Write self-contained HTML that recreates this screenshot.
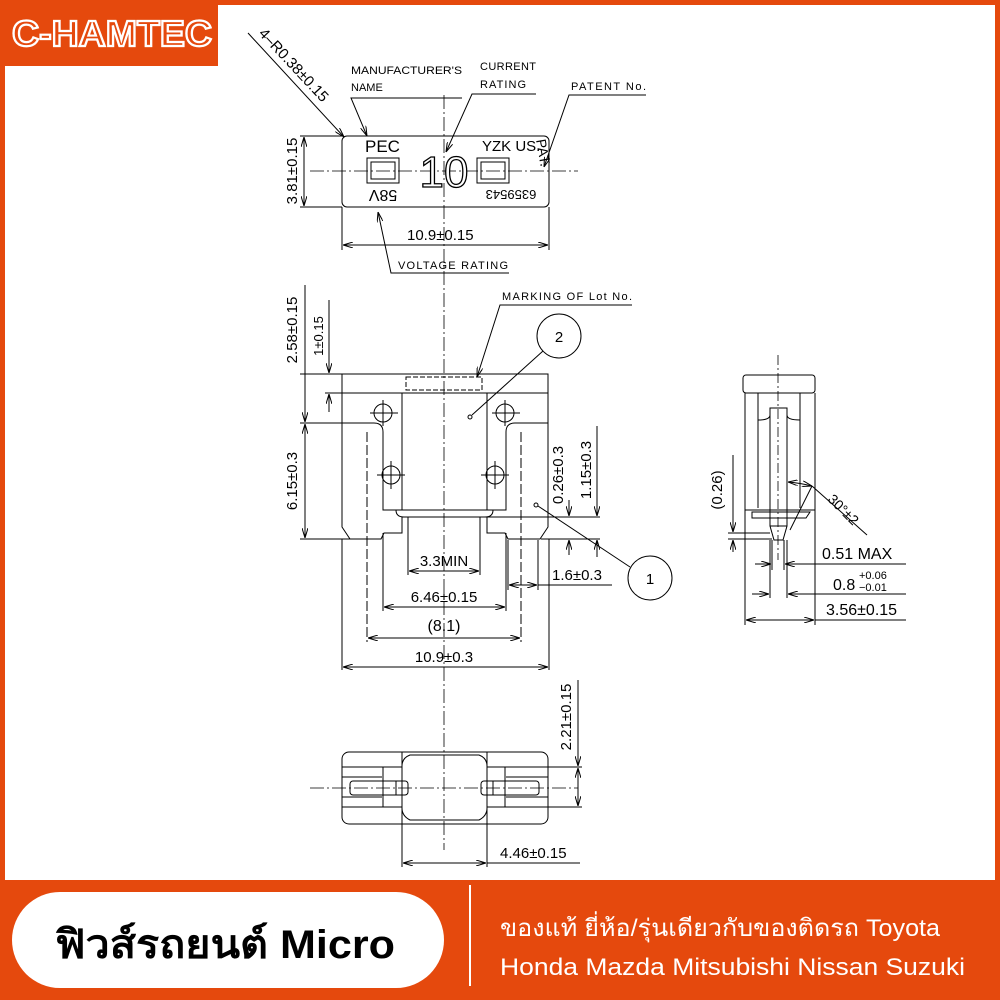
<!DOCTYPE html>
<html><head><meta charset="utf-8"><style>
html,body{margin:0;padding:0;background:#e5490d;}
svg{display:block}
text{font-family:"Liberation Sans","DejaVu Sans",sans-serif;}
</style></head><body>
<svg width="1000" height="1000" viewBox="0 0 1000 1000" xmlns="http://www.w3.org/2000/svg">
<defs>
<marker id="a" viewBox="0 0 10 6" refX="10" refY="3" markerWidth="10" markerHeight="6" orient="auto-start-reverse" markerUnits="userSpaceOnUse"><path d="M0,0 L10,3 L0,6" fill="none" stroke="#000" stroke-width="1"/></marker>
</defs>
<rect x="0" y="0" width="1000" height="1000" fill="#e5490d"/>
<rect x="5" y="5" width="990" height="875" fill="#fff"/>
<rect x="0" y="0" width="218" height="66" fill="#e5490d"/>
<text x="112" y="46" text-anchor="middle" font-family="Liberation Serif,serif" font-weight="bold" font-size="36" fill="#e5490d" stroke="#fff" stroke-width="2.2" textLength="200" lengthAdjust="spacingAndGlyphs">C-HAMTEC</text>

<g stroke="#000" stroke-width="1" fill="none">
<line x1="444" y1="95" x2="444" y2="850" stroke-dasharray="14,3,2,3" stroke-width="0.8"/>
<line x1="310" y1="171" x2="578" y2="171" stroke-dasharray="14,3,2,3" stroke-width="0.8"/>

<rect x="342" y="136" width="207" height="71" rx="5"/>
<rect x="367" y="158" width="32" height="25"/><rect x="371" y="162" width="24" height="17"/>
<rect x="477" y="158" width="32" height="25"/><rect x="481" y="162" width="24" height="17"/>
<line x1="300" y1="136" x2="342" y2="136"/><line x1="300" y1="207" x2="342" y2="207"/>
<line x1="304" y1="137" x2="304" y2="206" marker-start="url(#a)" marker-end="url(#a)"/>
<line x1="342" y1="207" x2="342" y2="250"/><line x1="549" y1="207" x2="549" y2="250"/>
<line x1="343" y1="245" x2="548" y2="245" marker-start="url(#a)" marker-end="url(#a)"/>
<line x1="248" y1="33" x2="344" y2="137" marker-end="url(#a)"/>
<polyline points="462,98 351,98 367,136" marker-end="url(#a)"/>
<polyline points="536,94 472,94 446,152" marker-end="url(#a)"/>
<polyline points="646,95 569,95 544,167" marker-end="url(#a)"/>
<polyline points="509,273 391,273 378,212" marker-end="url(#a)"/>

<path d="M342,374 H548 V527 L540,539 H508 L505,533 H487 V517 H480 M342,374 V527 L350,539 H381 L384,533 H402 V517 H408 H480"/>
<line x1="342" y1="393" x2="548" y2="393"/>
<path d="M342,423 H374 Q383,423 383,432 V510 H506 V432 Q506,423 515,423 H548"/>
<line x1="402" y1="393" x2="402" y2="510"/><line x1="487" y1="393" x2="487" y2="510"/>
<path d="M396,510 Q396,517 404,517 M493,510 Q493,517 485,517"/>
<rect x="406" y="377" width="76" height="13" stroke-dasharray="5,2"/>
<line x1="367" y1="432" x2="367" y2="642" stroke-dasharray="10,3"/>
<line x1="521" y1="432" x2="521" y2="642" stroke-dasharray="10,3"/>
<circle cx="383" cy="413" r="9"/><line x1="370" y1="413" x2="398" y2="413"/><line x1="383" y1="400" x2="383" y2="426"/>
<circle cx="505" cy="413" r="9"/><line x1="492" y1="413" x2="520" y2="413"/><line x1="505" y1="400" x2="505" y2="426"/>
<circle cx="391" cy="475" r="9"/><line x1="377" y1="475" x2="405" y2="475"/><line x1="391" y1="461" x2="391" y2="489"/>
<circle cx="495" cy="475" r="9"/><line x1="481" y1="475" x2="509" y2="475"/><line x1="495" y1="461" x2="495" y2="489"/>
<circle cx="559" cy="336" r="22"/><line x1="543" y1="351" x2="472" y2="415"/><circle cx="470" cy="417" r="2"/>
<circle cx="650" cy="578" r="22"/><line x1="630" y1="567" x2="538" y2="506"/><circle cx="536" cy="505" r="2"/>
<polyline points="632,305 500,305 477,377" marker-end="url(#a)"/>
<line x1="300" y1="374" x2="342" y2="374"/><line x1="300" y1="423" x2="342" y2="423"/><line x1="300" y1="539" x2="350" y2="539"/>
<line x1="325" y1="393" x2="342" y2="393"/>
<line x1="305" y1="285" x2="305" y2="422" marker-end="url(#a)"/>
<line x1="305" y1="424" x2="305" y2="538" marker-start="url(#a)" marker-end="url(#a)"/>
<line x1="329" y1="300" x2="329" y2="373" marker-end="url(#a)"/>
<line x1="329" y1="412" x2="329" y2="394" marker-end="url(#a)"/>
<line x1="408" y1="517" x2="408" y2="575"/><line x1="480" y1="517" x2="480" y2="575"/>
<line x1="409" y1="571" x2="479" y2="571" marker-start="url(#a)" marker-end="url(#a)"/>
<line x1="383" y1="533" x2="383" y2="611"/><line x1="506" y1="533" x2="506" y2="611"/>
<line x1="384" y1="607" x2="505" y2="607" marker-start="url(#a)" marker-end="url(#a)"/>
<line x1="368" y1="638" x2="520" y2="638" marker-start="url(#a)" marker-end="url(#a)"/>
<line x1="342" y1="539" x2="342" y2="670"/><line x1="549" y1="539" x2="549" y2="670"/>
<line x1="343" y1="667" x2="548" y2="667" marker-start="url(#a)" marker-end="url(#a)"/>
<line x1="508" y1="540" x2="508" y2="590"/><line x1="538" y1="540" x2="538" y2="590"/>
<line x1="509" y1="585" x2="537" y2="585" marker-start="url(#a)" marker-end="url(#a)"/>
<line x1="538" y1="585" x2="612" y2="585"/>
<line x1="480" y1="517" x2="600" y2="517"/><line x1="541" y1="539" x2="600" y2="539"/>
<line x1="569" y1="500" x2="569" y2="516" marker-end="url(#a)"/><line x1="569" y1="555" x2="569" y2="540" marker-end="url(#a)"/>
<line x1="597" y1="426" x2="597" y2="516" marker-end="url(#a)"/><line x1="597" y1="557" x2="597" y2="540" marker-end="url(#a)"/>

<rect x="743" y="375" width="72" height="18" rx="3"/>
<path d="M745,393 V510 H815 V393"/>
<path d="M758,393 V508 M800,393 V508 M758,420 Q770,420 770,415 M800,420 Q787,420 787,415"/>
<path d="M770,408 V526 L774,540 H783 L787,526 V408 Z"/>
<line x1="770" y1="526" x2="787" y2="526"/>
<path d="M752,512 H810 L806,518 H752 Z"/>
<line x1="778" y1="355" x2="778" y2="560" stroke-dasharray="10,3,2,3" stroke-width="0.8"/>
<line x1="790" y1="530" x2="812" y2="486"/>
<path d="M788,482 Q800,483 812,486" marker-start="url(#a)" marker-end="url(#a)"/>
<line x1="812" y1="486" x2="867" y2="535"/>
<line x1="728" y1="533" x2="770" y2="533"/><line x1="728" y1="539" x2="772" y2="539"/>
<line x1="733" y1="455" x2="733" y2="532" marker-end="url(#a)"/><line x1="733" y1="552" x2="733" y2="540" marker-end="url(#a)"/>
<line x1="772" y1="540" x2="772" y2="570"/><line x1="784" y1="540" x2="784" y2="570"/>
<line x1="755" y1="564" x2="771" y2="564" marker-end="url(#a)"/><line x1="800" y1="564" x2="785" y2="564" marker-end="url(#a)"/>
<line x1="785" y1="564" x2="906" y2="564"/>
<line x1="770" y1="540" x2="770" y2="598"/><line x1="787" y1="540" x2="787" y2="598"/>
<line x1="752" y1="594" x2="769" y2="594" marker-end="url(#a)"/><line x1="806" y1="594" x2="788" y2="594" marker-end="url(#a)"/>
<line x1="788" y1="594" x2="906" y2="594"/>
<line x1="745" y1="510" x2="745" y2="625"/><line x1="815" y1="510" x2="815" y2="625"/>
<line x1="746" y1="620" x2="814" y2="620" marker-start="url(#a)" marker-end="url(#a)"/>
<line x1="815" y1="620" x2="906" y2="620"/>

<rect x="342" y="752" width="206" height="72" rx="7"/>
<path d="M402,752 V766 Q402,758 410,755 H479 Q487,758 487,766 V752 M402,824 V808 Q402,816 410,820 H479 Q487,816 487,808 V824"/>
<line x1="402" y1="766" x2="402" y2="808"/><line x1="487" y1="766" x2="487" y2="808"/>
<line x1="342" y1="767" x2="402" y2="767"/><line x1="342" y1="807" x2="402" y2="807"/>
<line x1="487" y1="767" x2="548" y2="767"/><line x1="487" y1="807" x2="548" y2="807"/>
<line x1="342" y1="777" x2="382" y2="777"/><line x1="342" y1="797" x2="382" y2="797"/>
<line x1="506" y1="777" x2="548" y2="777"/><line x1="506" y1="797" x2="548" y2="797"/>
<line x1="383" y1="767" x2="383" y2="807"/><line x1="505" y1="767" x2="505" y2="807"/>
<rect x="350" y="781" width="58" height="14" rx="3"/><rect x="481" y="781" width="58" height="14" rx="3"/>
<line x1="396" y1="781" x2="396" y2="795"/><line x1="493" y1="781" x2="493" y2="795"/>
<line x1="310" y1="788" x2="578" y2="788" stroke-dasharray="14,3,2,3" stroke-width="0.8"/>
<line x1="548" y1="767" x2="582" y2="767"/><line x1="548" y1="807" x2="582" y2="807"/>
<line x1="578" y1="680" x2="578" y2="766" marker-end="url(#a)"/>
<line x1="578" y1="768" x2="578" y2="806" marker-start="url(#a)" marker-end="url(#a)"/>
<line x1="402" y1="824" x2="402" y2="867"/><line x1="487" y1="824" x2="487" y2="867"/>
<line x1="403" y1="863" x2="486" y2="863" marker-start="url(#a)" marker-end="url(#a)"/>
<line x1="487" y1="863" x2="580" y2="863"/>
</g>

<g fill="#000" font-size="14">
<text x="365" y="152" font-size="17">PEC</text>
<text x="444" y="187" font-size="44" text-anchor="middle" fill="#fff" stroke="#000" stroke-width="1.3">10</text>
<text x="482" y="151" font-size="15">YZK US.</text>
<text transform="translate(383,190) rotate(180)" font-size="16" text-anchor="middle">58V</text>
<text transform="translate(511,190) rotate(180)" font-size="13" text-anchor="middle">6359543</text>
<text transform="translate(536,140) rotate(80)" font-size="14">PAT.</text>
<text transform="translate(297,171) rotate(-90)" text-anchor="middle" font-size="15">3.81±0.15</text>
<text x="407" y="240" font-size="15">10.9±0.15</text>
<text transform="translate(258,34) rotate(47)" font-size="15">4–R0.38±0.15</text>
<text x="351" y="74" font-size="11" textLength="111" lengthAdjust="spacingAndGlyphs">MANUFACTURER'S</text>
<text x="351" y="91" font-size="11">NAME</text>
<text x="480" y="70" font-size="11" textLength="56">CURRENT</text>
<text x="480" y="88" font-size="11" textLength="46">RATING</text>
<text x="571" y="90" font-size="11" textLength="75">PATENT No.</text>
<text x="398" y="269" font-size="11" textLength="110">VOLTAGE RATING</text>
<text x="502" y="300" font-size="11" textLength="130">MARKING OF Lot No.</text>
<text x="559" y="342" font-size="15" text-anchor="middle">2</text>
<text x="650" y="584" font-size="15" text-anchor="middle">1</text>
<text transform="translate(297,330) rotate(-90)" text-anchor="middle" font-size="15">2.58±0.15</text>
<text transform="translate(323,336) rotate(-90)" text-anchor="middle" font-size="13">1±0.15</text>
<text transform="translate(297,481) rotate(-90)" text-anchor="middle" font-size="15">6.15±0.3</text>
<text transform="translate(563,475) rotate(-90)" text-anchor="middle" font-size="15">0.26±0.3</text>
<text transform="translate(591,470) rotate(-90)" text-anchor="middle" font-size="15">1.15±0.3</text>
<text x="444" y="566" font-size="15" text-anchor="middle">3.3MIN</text>
<text x="444" y="602" font-size="15" text-anchor="middle">6.46±0.15</text>
<text x="444" y="631" font-size="16" text-anchor="middle">(8.1)</text>
<text x="444" y="662" font-size="15" text-anchor="middle">10.9±0.3</text>
<text x="552" y="580" font-size="15">1.6±0.3</text>
<text transform="translate(722,490) rotate(-90)" text-anchor="middle" font-size="15">(0.26)</text>
<text transform="translate(840,513) rotate(45)" text-anchor="middle" font-size="14">30°±2</text>
<text x="822" y="559" font-size="16">0.51 MAX</text>
<text x="833" y="590" font-size="16">0.8</text>
<text x="859" y="579" font-size="11">+0.06</text>
<text x="859" y="591" font-size="11">−0.01</text>
<text x="826" y="615" font-size="16">3.56±0.15</text>
<text transform="translate(571,717) rotate(-90)" text-anchor="middle" font-size="15">2.21±0.15</text>
<text x="500" y="858" font-size="15">4.46±0.15</text>
</g>

<rect x="12" y="892" width="432" height="96" rx="48" fill="#fff"/>
<text x="55" y="958" font-size="40" font-weight="bold" fill="#000" textLength="340" lengthAdjust="spacingAndGlyphs">ฟิวส์รถยนต์ Micro</text>
<line x1="470" y1="885" x2="470" y2="986" stroke="#fff" stroke-width="2"/>
<text x="500" y="936" font-size="24" fill="#fff" textLength="440" lengthAdjust="spacingAndGlyphs">ของแท้ ยี่ห้อ/รุ่นเดียวกับของติดรถ Toyota</text>
<text x="500" y="975" font-size="24" fill="#fff" textLength="465" lengthAdjust="spacingAndGlyphs">Honda Mazda Mitsubishi Nissan Suzuki</text>
</svg>
</body></html>
